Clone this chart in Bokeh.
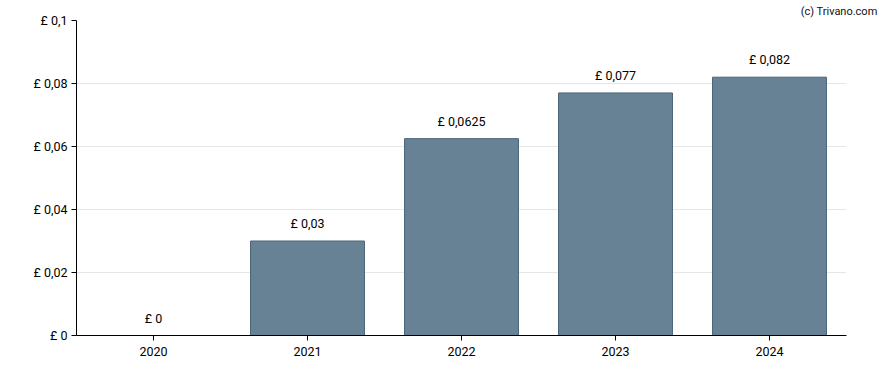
from bokeh.plotting import figure
from bokeh.models import ColumnDataSource, LabelSet, FixedTicker, CustomJSTickFormatter, Range1d
from bokeh.core.properties import value
from bokeh.embed import file_html
from bokeh.resources import INLINE

years = ["2020", "2021", "2022", "2023", "2024"]
dividends = [0.0, 0.03, 0.0625, 0.077, 0.082]
y_ticks = [0, 0.02, 0.04, 0.06, 0.08, 0.1]

labels = ["£ " + (("%g" % v).replace(".", ",")) for v in dividends]
src = ColumnDataSource(dict(x=years, top=dividends, label=labels))

p = figure(x_range=years, width=880, height=362, output_backend="svg",
           toolbar_location=None, tools="", title="(c) Trivano.com")
p.min_border_left = 76
p.min_border_right = 34
p.min_border_top = 20
p.min_border_bottom = 27
p.outline_line_color = None
p.y_range = Range1d(0, 0.1)

p.title.align = "right"
p.title.offset = -31
p.title.standoff = 5
p.title.text_font = "Roboto"
p.title.text_font_size = "11px"
p.title.text_font_style = "normal"
p.title.text_color = "#111111"

p.vbar(x="x", top="top", width=0.74, source=src, fill_color="#678294",
       line_color="#4b6579", line_width=1)

p.add_layout(LabelSet(x="x", y="top", text="label", source=src, y_offset=10,
                      text_align="center", text_baseline="bottom",
                      text_font=value("Roboto"), text_font_size="12.5px",
                      text_color="#000000"))

p.xgrid.grid_line_color = None
p.ygrid.grid_line_color = "#e6e6e6"
p.yaxis.ticker = FixedTicker(ticks=y_ticks)
p.yaxis.formatter = CustomJSTickFormatter(
    code="return '£ ' + Number(tick.toFixed(4)).toString().replace('.', ',');")
for ax in (p.xaxis, p.yaxis):
    ax.axis_line_color = "black"
    ax.major_tick_line_color = "black"
    ax.minor_tick_line_color = None
    ax.major_tick_in = 0
    ax.major_tick_out = 5
    ax.major_label_text_font = "Roboto"
    ax.major_label_text_font_size = "12.5px"
    ax.major_label_text_color = "#000000"
p.xaxis.major_label_standoff = 6
p.yaxis.major_label_standoff = 4

open("out.html", "w").write(file_html(p, INLINE))
